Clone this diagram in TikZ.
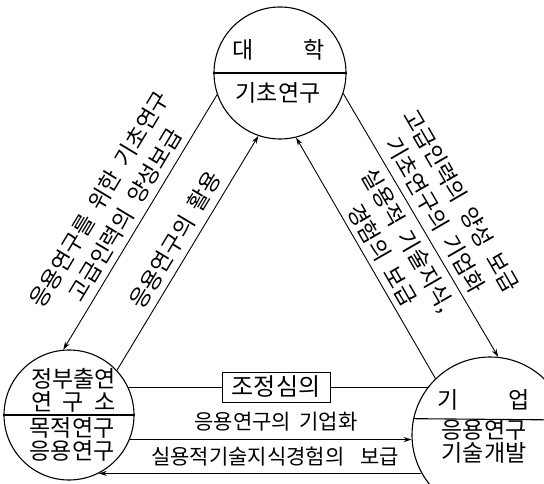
\documentclass[tikz,border=0pt]{standalone}
\usepackage{fontspec}
\newfontfamily\kr{Noto Sans CJK KR}
\usetikzlibrary{arrows.meta}
\newcommand{\kgap}{\hspace{0.45em}}
\begin{document}
\begin{tikzpicture}[x=1pt,y=1pt,
  ring/.style={circle, draw, line width=1.1pt, minimum size=#1, inner sep=0pt},
  ktext/.style={font=\kr\fontsize{23}{24}\selectfont, inner sep=0pt},
  htext/.style={font=\kr\fontsize{21}{24}\selectfont, inner sep=0pt},
  dtext/.style={font=\kr\fontsize{22.5}{30}\selectfont, align=center, inner sep=0pt},
  conn/.style={line width=0.9pt},
  arr/.style={conn, -{Stealth[length=8pt,width=5pt]}},
  boxnode/.style={draw, line width=1pt, minimum width=108pt, minimum height=30pt, inner sep=0pt, font=\kr\fontsize{24}{26}\selectfont}
]
\useasboundingbox (0,0) rectangle (544,483);
% circles
\node[ring=132pt] (tc) at (280,410) {};
\node[ring=130pt] (lc) at (69,68) {};
\node[ring=156pt] (rc) at (490,48) {};
\draw[line width=1.1pt] (tc.west) -- (tc.east);
\draw[line width=1.1pt] (lc.west) -- (lc.east);
\draw[line width=1.1pt] (rc.168.9) -- (rc.11.1);
% circle texts
\node[ktext] (tc1) at (278.5,433) {대\hspace{2.15em}학};
\node[ktext] (tc2) at (278,390) {기초연구};
\node[ktext] (lc1) at (73.5,104) {정부출연};
\node[ktext] (lc2) at (73.5,81) {연\hspace{0.45em}구\hspace{0.45em}소};
\node[ktext] (lc3) at (72,55) {목적연구};
\node[ktext] (lc4) at (72,32) {응용연구};
\node[ktext] (rc1) at (483.5,83) {기\hspace{2.15em}업};
\node[ktext] (rc2) at (484,53) {응용연구};
\node[ktext] (rc3) at (484,30) {기술개발};
% box and bottom labels
\node[boxnode] (box) at (276,96) {조정심의};
\node[htext] (m1) at (276,61) {응용연구의\hspace{0.4em}기업화};
\node[htext] (m2) at (275,26) {실용적기술지식경험의\hspace{0.75em}보급};
% connectors
\draw[arr] (tc.199.5) -- (lc.95.4);
\draw[arr] (lc.43.8) -- (tc.251.3);
\draw[arr] (tc.-18.7) -- (rc.84.9);
\draw[arr] (rc.134) -- (tc.284.2);
\draw[conn] (box.west) -- (box.west -| lc.26.5);
\draw[conn] (box.east) -- (box.east -| rc.141.1);
\draw[arr] (lc.-22.6) -- (lc.-22.6 -| rc.184.4);
\draw[arr] (lc.-63.2 -| rc.209.2) -- (lc.-63.2);
% diagonal labels
\node[dtext, rotate=59] (d1) at (112.3,276) {응용연구를\kgap 위한\kgap 기초연구\\고급인력의\kgap 양성보급};
\node[dtext, rotate=59] (d2) at (175,243) {응용연구의\kgap 활용};
\node[dtext, rotate=-60] (d3) at (448.5,275) {고급인력의\kgap 양성\kgap 보급\\기초연구의\kgap 기업화};
\node[dtext, rotate=-60] (d4) at (395.3,235.5) {실용적\kgap 기술지식,\\경험의\kgap 보급};
\end{tikzpicture}
\end{document}
